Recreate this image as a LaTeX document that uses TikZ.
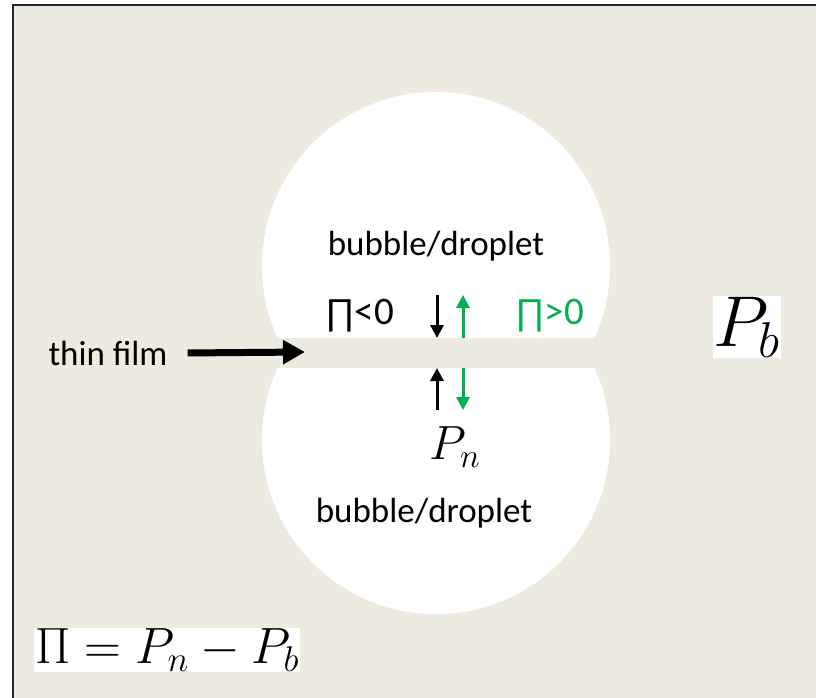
\RequirePackage{fix-cm}
\documentclass[tikz,border=0pt]{standalone}
\usepackage{fontspec}
\newfontfamily\calib{Carlito}
\newfontfamily\prodfont{Liberation Sans}
\usetikzlibrary{arrows.meta}
\definecolor{filmbg}{RGB}{237,234,224}
\definecolor{pgreen}{RGB}{0,176,80}
\newcommand{\bigPi}{{\prodfont\fontsize{36}{40}\selectfont ∏}}
\tikzset{
  lbl/.style={font=\calib\fontsize{35}{42}\selectfont, inner sep=0pt},
  signlbl/.style={font=\calib\fontsize{39}{44}\selectfont, inner sep=0pt},
  parrow/.style={line width=3pt, -{Triangle[length=13pt,width=13pt]}},
  filmarrow/.style={line width=7pt, -{Triangle[length=22pt,width=23pt]}}
}
\begin{document}
\begin{tikzpicture}[x=1pt,y=-1pt]
       \useasboundingbox (0,0) rectangle (816,698);
       \clip (0,0) rectangle (816,698);
       % frame
       \fill[white] (0,0) rectangle (816,698);
       \draw[fill=filmbg,line width=2pt,draw=black!85] (13,5) rectangle (900,760);
       % bubbles and film
       \fill[white] (436,266) circle[radius=174pt];
       \fill[white] (436,440) circle[radius=174pt];
       \fill[filmbg] (240,338) rectangle (630,368);
       % texts
       \node[lbl,anchor=base] (top) at (436,255) {bubble/droplet};
       \node[lbl,anchor=base] (bot) at (424,522) {bubble/droplet};
       \node[lbl,anchor=base] (film) at (108,365) {thin film};
       \node[signlbl,anchor=base west] (neg) at (325,324) {\bigPi<0};
       \node[signlbl,anchor=base west,text=pgreen] (pos) at (515,324) {\bigPi>0};
       \node[fill=white,inner sep=1pt,font=\fontsize{72}{80}\selectfont] (Pb) at (747,327) {$P_b$};
       \node[inner sep=1pt,font=\fontsize{48}{56}\selectfont] (Pn) at (455,447) {$P_n$};
       \node[fill=white,inner sep=1pt,font=\fontsize{51}{58}\selectfont] (eq) at (167,650) {$\Pi=P_n-P_b$};
       % arrows
       \coordinate (ft) at (305,352);
       \coordinate (a1) at (437,295);\coordinate (a2) at (437,338);
       \coordinate (a3) at (437,410);\coordinate (a4) at (437,368);
       \coordinate (g1) at (463,338);\coordinate (g2) at (463,295);
       \coordinate (g3) at (463,368);\coordinate (g4) at (463,410);
       \draw[filmarrow] (film.east) ++(20pt,0) coordinate (fs) -- (ft);
       \draw[parrow] (a1) -- (a2);\draw[parrow] (a3) -- (a4);
       \draw[parrow,pgreen] (g1) -- (g2);\draw[parrow,pgreen] (g3) -- (g4);
\end{tikzpicture}
\end{document}
